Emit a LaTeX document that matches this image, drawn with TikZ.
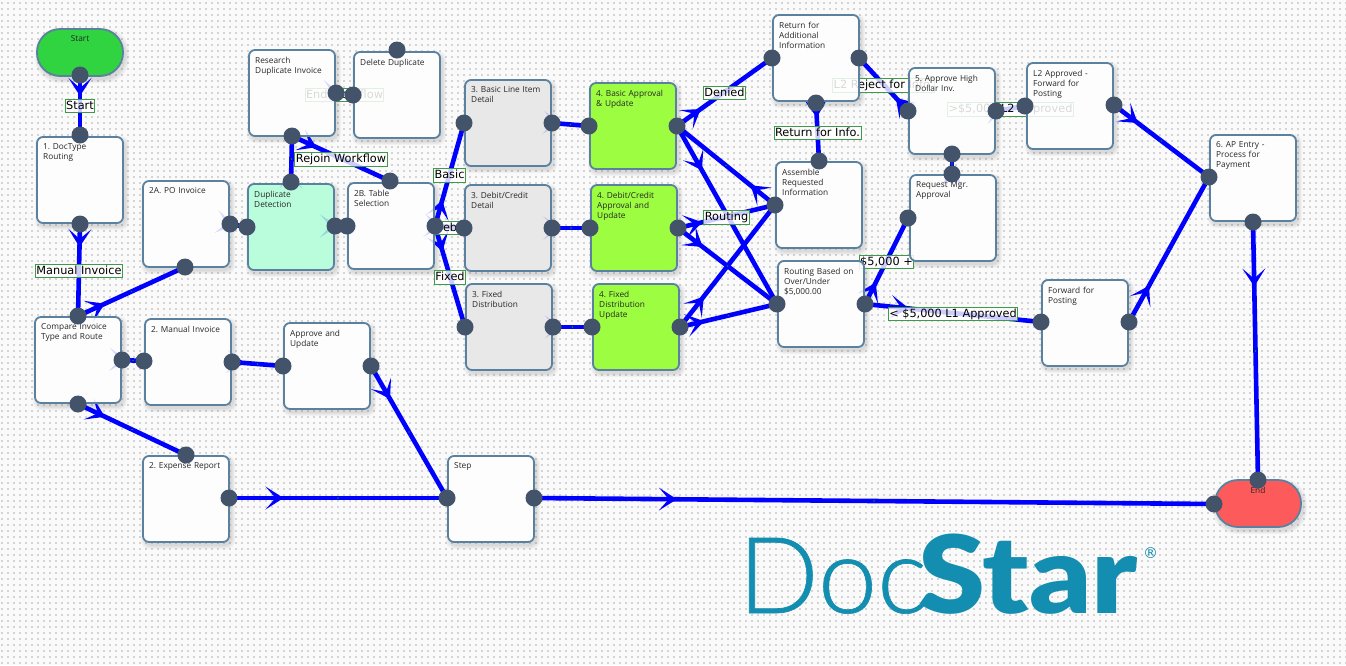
\documentclass[tikz,border=0pt]{standalone}
\usepackage{fontspec}
\usetikzlibrary{arrows.meta,decorations.markings}
\newfontfamily\boxfont{Open Sans}
\newfontfamily\tagfont{DejaVu Sans}
\newfontfamily\logolight[FakeBold=0.6]{Lato Light}
\newfontfamily\logoheavy[FakeStretch=1.12]{Lato Black}
\definecolor{wireblue}{HTML}{0000FF}
\definecolor{portgray}{HTML}{43536A}
\definecolor{boxedge}{HTML}{5A82A0}
\definecolor{taggreen}{HTML}{3E9A48}
\definecolor{startgreen}{HTML}{0CCE20}
\definecolor{endred}{HTML}{FF4040}
\definecolor{dupmint}{HTML}{B0FFD8}
\definecolor{stepgray}{HTML}{E6E6E6}
\definecolor{lime}{HTML}{8EFF20}
\definecolor{logoblue}{HTML}{138DB0}
\pgfdeclarelayer{grid}
\pgfdeclarelayer{wire}
\pgfdeclarelayer{tag}
\pgfsetlayers{grid,wire,tag,main}
\tikzset{
    wiretip/.tip={Stealth[length=18pt,width=23pt,inset=10pt]},
    flow/.style={line width=4.6pt,draw=wireblue,postaction={decorate},
        decoration={markings,
            mark=at position #1 with {\arrow[wireblue]{wiretip}},
            mark=at position .5 with {\fill[green!60!black] circle (.8pt);}}},
    flow/.default=.25,
    port/.style={circle,fill=portgray,inner sep=0pt,minimum size=17pt},
    flowbox/.style={anchor=north west,draw=boxedge,line width=1.8pt,fill opacity=.85,outer sep=0pt,
        rounded corners=6pt,minimum width=86pt,minimum height=86pt},
    endbox/.style={flowbox,rounded corners=23pt,minimum height=47pt},
    boxtext/.style={anchor=north west,inner sep=0pt,text width=80pt,align=left,text=black!85,
        font=\boxfont\frenchspacing\fontsize{8.3}{10}\selectfont},
    wiretag/.style={draw=taggreen,line width=1pt,fill=white,fill opacity=.8,text opacity=1,draw opacity=1,
        inner xsep=1pt,inner ysep=1.5pt,text height=8.5pt,text depth=2pt,yshift=-1pt,
        font=\tagfont\fontsize{11.3}{12}\selectfont},
    logotext/.style={anchor=base west,inner sep=0pt,text=logoblue},
    softshade/.style={fill=black,opacity=.03,rounded corners=8pt},
    underlay/.style={fill=white,opacity=.8,rounded corners=6pt}
}
\begin{document}
\begin{tikzpicture}[x=1pt,y=-1pt]
    \useasboundingbox (0,0) rectangle (1346,665);
    \begin{pgfonlayer}{grid}
        \fill[black!2] (0,0) rectangle (1346,665);
        % dots of the canvas
        \foreach \y in {3,9,...,663}
            \draw[black!17,line width=2pt,dash pattern=on 2pt off 4pt] (1,\y) -- (1346,\y);
    \end{pgfonlayer}
    % terminators
    \foreach \name/\x/\y/\col/\txt/\tx/\ty in {startBox/37/29/startgreen/Start/43/6,endBox/1215/480/endred/End/43/7}{
        \node[endbox,fill=\col] (\name) at (\x,\y) {};
        \node[boxtext,anchor=north,text width=40pt,align=center] (\name Text) at ([shift={(\tx,\ty)}]\name.north west) {\txt};
        \begin{pgfonlayer}{grid}
            \foreach \s in {1,...,4}
                \fill[softshade,rounded corners=24pt] ([shift={(-\s+2,-\s+3)}]\name.north west) rectangle ([shift={(\s+2,\s+3)}]\name.south east);
            \fill[underlay,rounded corners=23pt] (\name.north west) rectangle (\name.south east);
        \end{pgfonlayer}
    }
    % steps
    \foreach \name/\x/\y/\col/\txt in {
        typeBox/37/137/white/{1. DocType\\Routing},
        poBox/143/181/white/{2A. PO Invoice},
        dupBox/248/184/dupmint/{Duplicate\\Detection},
        tableBox/348/183/white/{2B. Table\\Selection},
        researchBox/249/50/white/{Research\\Duplicate Invoice},
        deleteBox/354/52/white/{Delete Duplicate},
        compareBox/35/317/white/{Compare Invoice\\Type and Route},
        manualBox/145/319/white/{2. Manual Invoice},
        approveBox/284/323/white/{Approve and\\Update},
        expenseBox/143/456/white/{2. Expense Report},
        stepBox/448/456/white/{Step},
        basicLine/465/80/stepgray/{3. Basic Line Item\\Detail},
        debitLine/465/185/stepgray/{3. Debit/Credit\\Detail},
        fixedLine/466/284/stepgray/{3. Fixed\\Distribution},
        basicAppr/590/83/lime/{4. Basic Approval\\\& Update},
        debitAppr/591/185/lime/{4. Debit/Credit\\Approval and\\Update},
        fixedAppr/593/284/lime/{4. Fixed\\Distribution\\Update},
        returnBox/773/15/white/{Return for\\Additional\\Information},
        assembleBox/776/162/white/{Assemble\\Requested\\Information},
        routingBox/778/261/white/{Routing Based on\\Over/Under\\\$5,000.00},
        highBox/909/68/white/{5. Approve High\\Dollar Inv.},
        requestBox/910/175/white/{Request Mgr.\\Approval},
        levelBox/1027/63/white/{L2 Approved -\\Forward for\\Posting},
        forwardBox/1042/280/white/{Forward for\\Posting},
        entryBox/1210/135/white/{6. AP Entry -\\Process for\\Payment}}{
        \node[flowbox,fill=\col] (\name) at (\x,\y) {};
        \node[boxtext] (\name Text) at ([shift={(6,6.5)}]\name.north west) {\txt};
        \begin{pgfonlayer}{grid}
            \foreach \s in {1,...,4}
                \fill[softshade] ([shift={(-\s+2,-\s+3)}]\name.north west) rectangle ([shift={(\s+2,\s+3)}]\name.south east);
            \fill[underlay] (\name.north west) rectangle (\name.south east);
        \end{pgfonlayer}
    }
    % ports
    \foreach \name/\x/\y in {
        startB/80/75, typeT/80/135, typeB/80/224, cmpT/78/316, cmpR/122/360, cmpB/78/404,
        poB/185/267, poR/230/224, dupL/247/227, dupR/335/226, dupT/291/182,
        resB/292/136, resR/336/93, delL/353/95, delT/397/50, tabL/347/226, tabT/390/181, tabR/435/226,
        manL/144/361, manR/232/362, appL/283/366, appR/371/366, expT/186/455, expR/229/498,
        stepL/447/498, stepR/534/498, endL/1214/504, endT/1258/480,
        basL/464/123, basR/552/123, debL/464/228, debR/552/228, fixL/465/327, fixR/553/327,
        basaL/589/126, basaR/677/126, debaL/590/228, debaR/678/228, fixaL/592/327, fixaR/680/327,
        retL/772/58, retR/859/58, retB/816/103, asmT/819/161, asmL/775/205,
        rouL/777/304, rouR/865/304, highL/908/111, highR/996/111, highB/952/154,
        reqT/952/174, reqL/908/218, lvlL/1025/106, lvlR/1114/105,
        fwdL/1041/322, fwdR/1129/322, entL/1209/177, entB/1253/222}
        \node[port] (\name) at (\x,\y) {};
    % connectors
    \begin{pgfonlayer}{wire}
        \foreach \a/\b in {
            typeB/cmpT, cmpT/poB, poR/dupL, dupR/tabL, dupT/resB, resB/tabT, resR/delL,
            tabR/basL, tabR/debL, tabR/fixL, cmpR/manL, cmpB/expT, manR/appL, appR/stepL, expR/stepL,
            basR/basaL, debR/debaL, fixR/fixaL, basaR/retL, asmL/basaR, basaR/rouL, debaR/asmL, debaR/rouL,
            fixaR/asmL, fixaR/rouL, highL/retR, retB/asmT, highR/lvlL, reqT/highB, rouR/reqL, rouR/fwdL,
            lvlR/entL, fwdR/entL, entB/endT}
            \draw[flow] (\a.center) -- (\b.center);
        \draw[flow=.35] (startB.center) -- (typeT.center);
        \draw[flow=.21] (stepR.center) -- (endL.center);
    \end{pgfonlayer}
    % connector labels
    \begin{pgfonlayer}{tag}
        \foreach \a/\b/\name/\txt in {
            startB/typeT/tagStart/Start, typeB/cmpT/tagManual/Manual Invoice, resB/tabT/tagRejoin/Rejoin Workflow,
            resR/delL/tagEnd/End Workflow, tabR/basL/tagBasic/Basic, tabR/debL/tagDebit/Debit/Credit,
            tabR/fixL/tagFixed/Fixed, basaR/retL/tagDenied/Denied, debaR/asmL/tagRouting/Routing,
            retB/asmT/tagReturn/Return for Info., highL/retR/tagReject/L2 Reject for Info.,
            highR/lvlL/tagLevel/{>\$5,000 L2 Approved}, rouR/reqL/tagOver/{\$5,000 +},
            rouR/fwdL/tagUnder/{< \$5,000 L1 Approved}}
            \path (\a.center) -- (\b.center) node[wiretag,midway] (\name) {\txt};
    \end{pgfonlayer}
    % logo
    \node[logotext,font=\logolight\fontsize{106}{108}\selectfont] (logoDoc) at (738,613) {Doc};
    \node[logotext,font=\logoheavy\fontsize{108}{108}\selectfont] (logoStar) at (918,613) {Star};
    \node[logotext,font=\tagfont\fontsize{15}{15}\selectfont] (logoMark) at (1143,558) {®};
\end{tikzpicture}
\end{document}
